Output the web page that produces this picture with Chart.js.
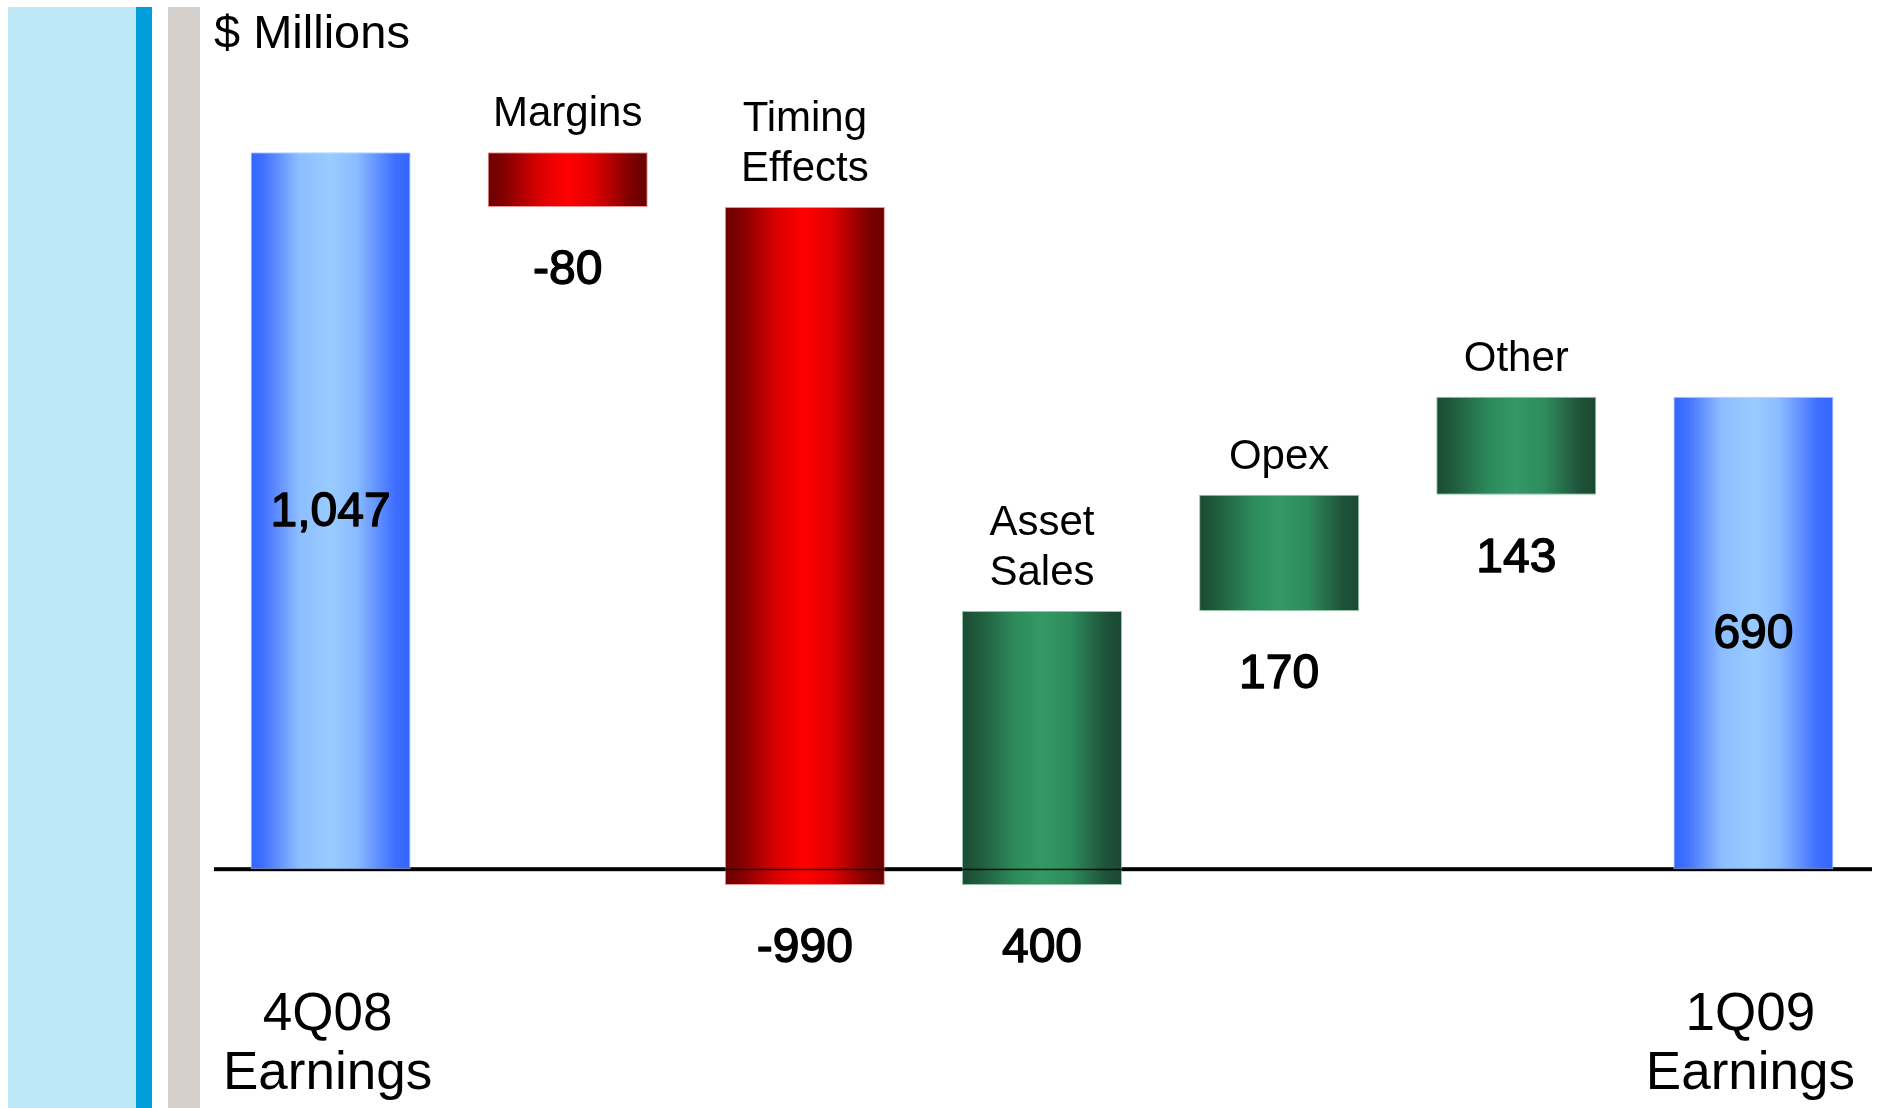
<!DOCTYPE html>
<html>
<head>
<meta charset="utf-8">
<title>Earnings bridge 4Q08 - 1Q09</title>
<script src="https://cdn.jsdelivr.net/npm/chart.js@4.4.1/dist/chart.umd.min.js"></script>
<style>
	html, body { margin: 0; padding: 0; background: #fff; }
	canvas { display: block; }
</style>
</head>
<body>
<canvas id="bridgeChart" width="1877" height="1108"></canvas>
<script>
// earnings bridge, $ millions
var categories = [ '4Q08 Earnings', 'Margins', 'Timing Effects', 'Asset Sales', 'Opex', 'Other', '1Q09 Earnings' ];
var kinds = [ 'total', 'step', 'step', 'step', 'step', 'step', 'total' ];
var amounts = [ 1047, -80, -990, 400, 170, 143, 690 ];
var topNames = [ [], [ 'Margins' ], [ 'Timing', 'Effects' ], [ 'Asset', 'Sales' ], [ 'Opex' ], [ 'Other' ], [] ];
var bottomNames = [ [ '4Q08', 'Earnings' ], [], [], [], [], [], [ '1Q09', 'Earnings' ] ];
var unitLabel = '$ Millions';

var FONT = '"Liberation Sans", Arial, sans-serif';
var BAR_PCT = 0.675;

// floating [from, to] ranges for the waterfall
var ranges = [];
var running = 0;
for (var i = 0; i < amounts.length; i++) {
	if (kinds[i] == 'total') {
		ranges.push([ 0, amounts[i] ]);
		running = amounts[i];
	} else {
		ranges.push([ running, running + amounts[i] ]);
		running += amounts[i];
	}
}

function fmt(v) {
	return v.toLocaleString('en-US');
}

var blueStops = [ [ 0, '#3366ff' ], [ 0.08, '#4070ff' ], [ 0.3, '#8dbdff' ], [ 0.5, '#99ccff' ], [ 0.66, '#8cbcff' ], [ 0.9, '#3f6fff' ], [ 1, '#3366ff' ] ];
var redStops = [ [ 0, '#6e0000' ], [ 0.1, '#820000' ], [ 0.33, '#dd0000' ], [ 0.5, '#ff0000' ], [ 0.66, '#e20000' ], [ 0.9, '#7c0000' ], [ 1, '#6a0000' ] ];
var greenStops = [ [ 0, '#1b4a33' ], [ 0.1, '#1f5a3c' ], [ 0.33, '#2d8a5b' ], [ 0.5, '#339966' ], [ 0.68, '#2e8b5c' ], [ 0.9, '#1e5239' ], [ 1, '#1b4832' ] ];

function barFill(context) {
	var chart = context.chart;
	var area = chart.chartArea;
	if (!area) return '#3366ff';
	var i = context.dataIndex;
	var cx = chart.scales.x.getPixelForValue(i);
	var w = (area.right - area.left) / categories.length * BAR_PCT;
	var g = chart.ctx.createLinearGradient(cx - w / 2, 0, cx + w / 2, 0);
	var stops = kinds[i] == 'total' ? blueStops : (amounts[i] < 0 ? redStops : greenStops);
	for (var s = 0; s < stops.length; s++) {
		g.addColorStop(stops[s][0], stops[s][1]);
	}
	return g;
}

function barEdge(context) {
	var i = context.dataIndex;
	if (kinds[i] == 'total') return 'rgba(170,200,255,0.9)';
	return amounts[i] < 0 ? 'rgba(230,120,120,0.8)' : 'rgba(120,180,150,0.8)';
}

// value text: regular face thickened with a thin outline
function valueText(c, txt, x, y) {
	c.font = '48px ' + FONT;
	c.textBaseline = 'middle';
	c.lineWidth = 1.4;
	c.lineJoin = 'round';
	c.strokeStyle = '#000';
	c.strokeText(txt, x, y);
	c.fillText(txt, x, y);
}

var decor = {
	id : 'decor',
	beforeDraw : function(chart) {
		var c = chart.ctx;
		c.save();
		c.fillStyle = '#bee8f5';
		c.fillRect(8, 7, 128, chart.height - 7);
		c.fillStyle = '#009fda';
		c.fillRect(136, 7, 16, chart.height - 7);
		c.fillStyle = '#d5d0cc';
		c.fillRect(168, 7, 32, chart.height - 7);

		c.fillStyle = '#000';
		c.font = '47px ' + FONT;
		c.textAlign = 'left';
		c.textBaseline = 'alphabetic';
		c.fillText(unitLabel, 214, 48);
		c.restore();
	},
	beforeDatasetsDraw : function(chart) {
		var c = chart.ctx;
		var y0 = chart.scales.y.getPixelForValue(0);
		c.save();
		c.fillStyle = '#000';
		c.fillRect(214, y0 - 2, chart.chartArea.right - 214, 4);
		c.restore();
	},
	afterDatasetsDraw : function(chart) {
		var c = chart.ctx;
		var y0 = chart.scales.y.getPixelForValue(0);
		var bars = chart.getDatasetMeta(0).data;
		c.save();
		// thin zero line across the bars that cross it
		c.fillStyle = 'rgba(0,0,0,0.85)';
		for (var i = 0; i < bars.length; i++) {
			var b = bars[i];
			var top = Math.min(b.y, b.base), bot = Math.max(b.y, b.base);
			if (top < y0 - 3 && bot > y0 + 3) {
				c.fillRect(b.x - b.width / 2, y0 - 0.5, b.width, 1.5);
			}
		}
		c.textAlign = 'center';
		for (var i = 0; i < bars.length; i++) {
			var b = bars[i];
			var top = Math.min(b.y, b.base), bot = Math.max(b.y, b.base);
			c.fillStyle = '#000';
			if (kinds[i] == 'total') {
				valueText(c, fmt(amounts[i]), b.x, (top + bot) / 2 + 2);
				c.font = '53px ' + FONT;
				c.textBaseline = 'alphabetic';
				var lines = bottomNames[i];
				for (var k = 0; k < lines.length; k++) {
					c.fillText(lines[k], b.x - 3, y0 + 161 + k * 59);
				}
			} else {
				valueText(c, fmt(amounts[i]), b.x, bot + 64);
				c.font = '42px ' + FONT;
				c.textBaseline = 'alphabetic';
				var lines = topNames[i];
				for (var k = 0; k < lines.length; k++) {
					c.fillText(lines[k], b.x, top - 26 - (lines.length - 1 - k) * 50);
				}
			}
		}
		c.restore();
	}
};

var ctxB = document.getElementById('bridgeChart').getContext('2d');
var bridge = new Chart(ctxB, {
	type : 'bar',
	data : {
		labels : categories,
		datasets : [ {
			data : ranges,
			backgroundColor : barFill,
			borderColor : barEdge,
			borderWidth : 1,
			borderSkipped : false,
			categoryPercentage : 1,
			barPercentage : BAR_PCT
		} ]
	},
	options : {
		responsive : false,
		animation : false,
		devicePixelRatio : 1,
		layout : {
			padding : { left : 212, right : 5, top : 116, bottom : 6 }
		},
		plugins : {
			legend : { display : false },
			tooltip : { enabled : false }
		},
		scales : {
			x : { display : false },
			y : { display : false, min : -340, max : 1100 }
		}
	},
	plugins : [ decor ]
});
</script>
</body>
</html>
